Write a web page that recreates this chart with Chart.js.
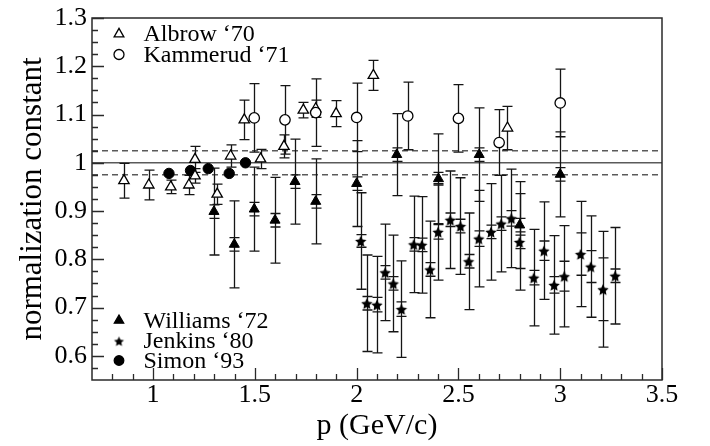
<!DOCTYPE html>
<html>
<head>
<meta charset="utf-8">
<title>normalization constant vs p</title>
<script src="https://cdn.jsdelivr.net/npm/chart.js@4.4.1/dist/chart.umd.min.js"></script>
<style>
  html, body { margin: 0; padding: 0; background: #fff; }
  #wrap { width: 710px; height: 446px; }
</style>
</head>
<body>
<div id="wrap"><canvas id="normChart" width="710" height="446"></canvas></div>
<script>
// ---- data ----
// Albrow '70 (open triangles)
const albrowP   = [0.857, 0.979, 1.087, 1.176, 1.206, 1.206, 1.315, 1.381, 1.448, 1.528, 1.643, 1.738, 1.799, 1.899, 2.082, 2.741];
const albrowN   = [0.963, 0.954, 0.950, 0.954, 1.007, 0.973, 0.935, 1.014, 1.089, 1.008, 1.034, 1.109, 1.112, 1.102, 1.181, 1.072];
const albrowErr = [0.036, 0.031, 0.014, 0.020, 0.027, 0.015, 0.021, 0.023, 0.041, 0.020, 0.024, 0.016, 0.018, 0.027, 0.031, 0.045];

// Kammerud '71 (open circles)
const kammerudP   = [1.497, 1.648, 1.799, 2.0, 2.251, 2.5, 2.70, 3.0];
const kammerudN   = [1.093, 1.089, 1.104, 1.094, 1.097, 1.092, 1.042, 1.124];
const kammerudErr = [0.071, 0.071, 0.070, 0.071, 0.070, 0.070, 0.068, 0.070];

// Williams '72 (filled triangles)
const williamsP    = [1.299, 1.399, 1.497, 1.599, 1.697, 1.799, 2.0, 2.197, 2.402, 2.602, 2.801, 3.0];
const williamsN    = [0.899, 0.831, 0.904, 0.881, 0.961, 0.920, 0.957, 1.017, 0.967, 1.017, 0.871, 0.976];
const williamsErr  = [0.090, 0.090, 0.087, 0.089, 0.088, 0.088, 0.089, 0.085, 0.093, 0.097, 0.090, 0.088];
const williamsStat = [0.014, 0.014, 0.014, 0.014, 0.014, 0.014, 0.014, 0.014, 0.013, 0.014, 0.014, 0.014];

// Jenkins '80 (stars)
const jenkinsP    = [2.02, 2.05, 2.10, 2.14, 2.18, 2.22, 2.28, 2.32, 2.36, 2.40, 2.46, 2.51, 2.55, 2.60, 2.66, 2.71, 2.76, 2.80, 2.87, 2.92, 2.97, 3.02, 3.10, 3.15, 3.21, 3.27];
const jenkinsN    = [0.838, 0.709, 0.706, 0.773, 0.750, 0.697, 0.831, 0.830, 0.779, 0.857, 0.882, 0.869, 0.796, 0.843, 0.857, 0.874, 0.885, 0.836, 0.762, 0.818, 0.747, 0.765, 0.811, 0.785, 0.738, 0.766];
const jenkinsErr  = [0.100, 0.100, 0.100, 0.100, 0.100, 0.100, 0.100, 0.100, 0.100, 0.100, 0.101, 0.100, 0.100, 0.100, 0.100, 0.100, 0.102, 0.100, 0.100, 0.101, 0.102, 0.105, 0.109, 0.105, 0.120, 0.100];
const jenkinsStat = [0.013, 0.014, 0.015, 0.014, 0.014, 0.015, 0.014, 0.014, 0.014, 0.015, 0.014, 0.014, 0.014, 0.016, 0.014, 0.014, 0.016, 0.014, 0.015, 0.020, 0.017, 0.031, 0.044, 0.033, 0.065, 0.014];

// Simon '93 (filled circles)
const simonP = [1.078, 1.184, 1.271, 1.374, 1.454];
const simonN = [0.978, 0.984, 0.988, 0.978, 1.000];

// reference lines (solid at 1, dashed band)
const refSolid  = [1.0];
const refDashed = [0.975, 1.025];

// axes
const xTickValues = [1, 1.5, 2, 2.5, 3, 3.5];
const yTickValues = [0.6, 0.7, 0.8, 0.9, 1.0, 1.1, 1.2, 1.3];

const SERIF = "'Liberation Serif', 'Times New Roman', serif";
Chart.defaults.font.family = SERIF;
Chart.defaults.color = '#000';

function toPoints(xs, ys) {
    return xs.map((x, i) => ({ x: x, y: ys[i] }));
}

// filled five pointed star used as point image
function makeStar(r) {
    const size = Math.ceil(r * 2) + 2;
    const c = document.createElement('canvas');
    c.width = size;
    c.height = size;
    const g = c.getContext('2d');
    g.fillStyle = '#000';
    g.beginPath();
    for (let k = 0; k < 10; k++) {
        const rad = k % 2 === 0 ? r : r * 0.48;
        const a = -Math.PI / 2 + k * Math.PI / 5;
        g.lineTo(size / 2 + rad * Math.cos(a), size / 2 + 0.8 + rad * Math.sin(a));
    }
    g.closePath();
    g.fill();
    return c;
}
const starImg = makeStar(6);
const starLegendImg = makeStar(5.2);

// error bars (outer + optional inner caps) drawn under the markers
const errorBarPlugin = {
    id: 'errorBars',
    beforeDatasetsDraw(chart) {
        const ctx = chart.ctx;
        const xs = chart.scales.x, ys = chart.scales.y;
        const cap = 5;
        ctx.save();
        ctx.strokeStyle = '#151515';
        ctx.lineWidth = 1.3;
        chart.data.datasets.forEach(ds => {
            if (!ds.errOuter) return;
            ds.data.forEach((pt, i) => {
                const px = Math.round(xs.getPixelForValue(pt.x)) + 0.5;
                const lo = ys.getPixelForValue(pt.y - ds.errOuter[i]);
                const hi = ys.getPixelForValue(pt.y + ds.errOuter[i]);
                ctx.beginPath();
                ctx.moveTo(px, lo);
                ctx.lineTo(px, hi);
                ctx.moveTo(px - cap, lo);
                ctx.lineTo(px + cap, lo);
                ctx.moveTo(px - cap, hi);
                ctx.lineTo(px + cap, hi);
                if (ds.errInner) {
                    const ilo = ys.getPixelForValue(pt.y - ds.errInner[i]);
                    const ihi = ys.getPixelForValue(pt.y + ds.errInner[i]);
                    ctx.moveTo(px - cap, ilo);
                    ctx.lineTo(px + cap, ilo);
                    ctx.moveTo(px - cap, ihi);
                    ctx.lineTo(px + cap, ihi);
                }
                ctx.stroke();
            });
        });
        ctx.restore();
    }
};

// horizontal reference lines
const refLinePlugin = {
    id: 'refLines',
    beforeDatasetsDraw(chart) {
        const ctx = chart.ctx;
        const a = chart.chartArea;
        const ys = chart.scales.y;
        ctx.save();
        ctx.strokeStyle = '#5a5a5a';
        ctx.lineWidth = 1.5;
        refSolid.forEach(v => {
            const y = ys.getPixelForValue(v);
            ctx.beginPath();
            ctx.moveTo(a.left, y);
            ctx.lineTo(a.right, y);
            ctx.stroke();
        });
        ctx.setLineDash([6, 4]);
        refDashed.forEach(v => {
            const y = ys.getPixelForValue(v);
            ctx.beginPath();
            ctx.moveTo(a.left, y);
            ctx.lineTo(a.right, y);
            ctx.stroke();
        });
        ctx.restore();
    }
};

// frame with inward ticks (ROOT style)
const framePlugin = {
    id: 'frame',
    afterDraw(chart) {
        const ctx = chart.ctx;
        const a = chart.chartArea;
        const xs = chart.scales.x, ys = chart.scales.y;
        ctx.save();
        ctx.strokeStyle = '#2a2a2a';
        ctx.lineWidth = 1.5;
        ctx.strokeRect(a.left, a.top, a.right - a.left, a.bottom - a.top);
        ctx.lineWidth = 1.3;
        ctx.beginPath();
        // x: minor every 0.1, major every 0.5
        for (let k = Math.ceil(xs.min * 10 + 1e-6); k <= Math.floor(xs.max * 10 + 1e-6); k++) {
            const px = Math.round(xs.getPixelForValue(k / 10)) + 0.5;
            const len = k % 5 === 0 ? 12 : 6;
            ctx.moveTo(px, a.bottom);
            ctx.lineTo(px, a.bottom - len);
        }
        // y: minor every 0.025, major every 0.1
        for (let k = Math.ceil(ys.min * 40 + 1e-6); k <= Math.floor(ys.max * 40 + 1e-6); k++) {
            const py = Math.round(ys.getPixelForValue(k / 40)) + 0.5;
            const len = k % 4 === 0 ? 12 : 6;
            ctx.moveTo(a.left, py);
            ctx.lineTo(a.left + len, py);
        }
        ctx.stroke();
        ctx.restore();
    }
};

// legend entries drawn inside the frame
const legendTop = [
    { text: 'Albrow \u201870', style: 'triangle', fill: '#fff', radius: 5.6, y: 34 },
    { text: 'Kammerud \u201871', style: 'circle', fill: '#fff', radius: 5, y: 54.5 }
];
const legendBottom = [
    { text: 'Williams \u201872', style: 'triangle', fill: '#000', radius: 5.4, y: 320.5 },
    { text: 'Jenkins \u201880', style: starLegendImg, fill: '#000', radius: 5, y: 341 },
    { text: 'Simon \u201893', style: 'circle', fill: '#000', radius: 4.8, y: 360.5 }
];
const legendPlugin = {
    id: 'cornerLegend',
    afterDraw(chart) {
        const ctx = chart.ctx;
        ctx.save();
        legendTop.concat(legendBottom).forEach(item => {
            ctx.fillStyle = item.fill;
            ctx.strokeStyle = '#000';
            ctx.lineWidth = 1.3;
            Chart.helpers.drawPoint(ctx, { pointStyle: item.style, radius: item.radius, borderWidth: 1.3, rotation: 0 }, 119, item.y);
            ctx.fillStyle = '#000';
            ctx.font = '24px ' + SERIF;
            ctx.textAlign = 'left';
            ctx.textBaseline = 'middle';
            ctx.fillText(item.text, 143.5, item.y + 1);
        });
        ctx.restore();
    }
};

const config = {
    type: 'scatter',
    data: {
        datasets: [
            {
                label: "Kammerud '71",
                data: toPoints(kammerudP, kammerudN),
                errOuter: kammerudErr,
                pointStyle: 'circle',
                pointRadius: 5.2,
                pointBackgroundColor: '#fff',
                pointBorderColor: '#000',
                pointBorderWidth: 1.3
            },
            {
                label: "Albrow '70",
                data: toPoints(albrowP, albrowN),
                errOuter: albrowErr,
                pointStyle: 'triangle',
                pointRadius: 6,
                pointBackgroundColor: '#fff',
                pointBorderColor: '#000',
                pointBorderWidth: 1.3
            },
            {
                label: "Williams '72",
                data: toPoints(williamsP, williamsN),
                errOuter: williamsErr,
                errInner: williamsStat,
                pointStyle: 'triangle',
                pointRadius: 5.8,
                pointBackgroundColor: '#000',
                pointBorderColor: '#000',
                pointBorderWidth: 1
            },
            {
                label: "Jenkins '80",
                data: toPoints(jenkinsP, jenkinsN),
                errOuter: jenkinsErr,
                errInner: jenkinsStat,
                pointStyle: starImg,
                pointRadius: 6
            },
            {
                label: "Simon '93",
                data: toPoints(simonP, simonN),
                pointStyle: 'circle',
                pointRadius: 5.2,
                pointBackgroundColor: '#000',
                pointBorderColor: '#000',
                pointBorderWidth: 1
            }
        ]
    },
    options: {
        responsive: false,
        animation: false,
        devicePixelRatio: 1,
        layout: {
            autoPadding: false,
            padding: { left: 0, top: 13, right: 48, bottom: 0 }
        },
        plugins: {
            legend: { display: false },
            tooltip: { enabled: false }
        },
        scales: {
            x: {
                type: 'linear',
                min: 0.7,
                max: 3.5,
                grid: { display: false, drawTicks: false },
                border: { display: false },
                afterBuildTicks: scale => { scale.ticks = xTickValues.map(v => ({ value: v })); },
                afterFit: scale => { scale.height = 66; },
                ticks: {
                    autoSkip: false,
                    maxRotation: 0,
                    padding: 5,
                    color: '#000',
                    font: { size: 26, lineHeight: 0.8 },
                    callback: v => String(Math.round(v * 10) / 10)
                },
                title: {
                    display: true,
                    text: 'p (GeV/c)',
                    color: '#000',
                    font: { size: 30, lineHeight: 1.2 },
                    padding: { top: 0, bottom: 2 }
                }
            },
            y: {
                type: 'linear',
                min: 0.55,
                max: 1.3,
                grid: { display: false, drawTicks: false },
                border: { display: false },
                afterBuildTicks: scale => { scale.ticks = yTickValues.map(v => ({ value: v })); },
                afterFit: scale => { scale.width = 92; },
                ticks: {
                    autoSkip: false,
                    padding: 5,
                    color: '#000',
                    font: { size: 26, lineHeight: 1 },
                    callback: v => String(Math.round(v * 10) / 10)
                },
                title: {
                    display: true,
                    text: 'normalization constant',
                    color: '#000',
                    font: { size: 31, lineHeight: 1.2 },
                    padding: { top: 14, bottom: 0 }
                }
            }
        }
    },
    plugins: [refLinePlugin, errorBarPlugin, framePlugin, legendPlugin]
};

new Chart(document.getElementById('normChart'), config);
</script>
</body>
</html>
